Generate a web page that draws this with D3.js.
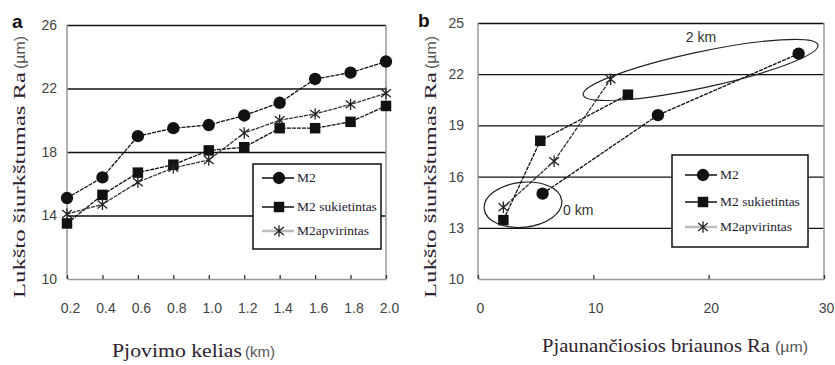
<!DOCTYPE html>
<html>
<head>
<meta charset="utf-8">
<script src="https://cdn.jsdelivr.net/npm/d3@7"></script>
<style>
  body { margin: 0; background: #fff; }
  .tick text { font-family: "Liberation Sans", Arial, sans-serif; font-size: 14px; fill: #444; }
</style>
</head>
<body>
<svg id="chart" width="835" height="365"></svg>
<script>
// ---- data, panel a (Ra vs cutting path) ----
var pathKm = [0.2, 0.4, 0.6, 0.8, 1.0, 1.2, 1.4, 1.6, 1.8, 2.0];
var m2Ra = [15.1, 16.4, 19.0, 19.5, 19.7, 20.3, 21.1, 22.6, 23.0, 23.7];
var sukietintasRa = [13.5, 15.3, 16.7, 17.2, 18.1, 18.3, 19.5, 19.5, 19.9, 20.9];
var apvirintasRa = [14.1, 14.7, 16.1, 17.0, 17.5, 19.2, 20.0, 20.4, 21.0, 21.7];
var yTicksA = [10, 14, 18, 22, 26];
var xTicksA = [0.2, 0.4, 0.6, 0.8, 1.0, 1.2, 1.4, 1.6, 1.8, 2.0];

// ---- data, panel b (shell Ra vs edge Ra) ----
var edgeM2 = [5.6, 15.6, 27.8];
var shellM2 = [15.0, 19.6, 23.2];
var edgeSukietintas = [2.2, 5.4, 13.0];
var shellSukietintas = [13.45, 18.1, 20.8];
var edgeApvirintas = [2.2, 6.6, 11.5];
var shellApvirintas = [14.2, 16.9, 21.7];
var yTicksB = [10, 13, 16, 19, 22, 25];
var xTicksB = [0, 10, 20, 30];

var seriesNames = ["M2", "M2 sukietintas", "M2apvirintas"];

var svg = d3.select("#chart");

// asterisk marker like the excel "star"
var starSymbol = {
  draw: function(ctx, size) {
    var r = Math.sqrt(size) / 2;
    ctx.moveTo(0, -r); ctx.lineTo(0, r);
    ctx.moveTo(-r * 0.85, -r * 0.7); ctx.lineTo(r * 0.85, r * 0.7);
    ctx.moveTo(-r * 0.85, r * 0.7); ctx.lineTo(r * 0.85, -r * 0.7);
  }
};

var markerStyles = [
  {type: d3.symbolCircle, size: 120, fill: "#111", stroke: "none"},
  {type: d3.symbolSquare, size: 110, fill: "#111", stroke: "none"},
  {type: starSymbol, size: 130, fill: "none", stroke: "#222"}
];

function drawMarker(g, i, x, y)
{
  var st = markerStyles[i];
  g.append("path")
   .attr("d", d3.symbol(st.type, st.size)())
   .attr("transform", "translate(" + x + "," + y + ")")
   .attr("fill", st.fill)
   .attr("stroke", st.stroke)
   .attr("stroke-width", 1.3);
}

function serifText(x, y, rot, str, len, size)
{
  svg.append("text")
     .attr("transform", "translate(" + x + "," + y + ") rotate(" + rot + ")")
     .attr("font-family", "'Liberation Serif', 'Times New Roman', serif")
     .attr("font-size", size)
     .attr("fill", "#2e2230")
     .attr("textLength", len)
     .attr("lengthAdjust", "spacingAndGlyphs")
     .text(str);
}

function unitText(x, y, rot, str, len)
{
  svg.append("text")
     .attr("transform", "translate(" + x + "," + y + ") rotate(" + rot + ")")
     .attr("font-family", "'Liberation Sans', Arial, sans-serif")
     .attr("font-size", 14)
     .attr("fill", "#555")
     .attr("textLength", len)
     .attr("lengthAdjust", "spacingAndGlyphs")
     .text(str);
}

function drawPanel(p)
{
  var g = svg.append("g");
  var x = p.x, y = p.y;
  var x0 = x.range()[0], x1 = x.range()[1];
  var yb = y.range()[0], yt = y.range()[1];

  // horizontal grid + y labels
  var yAxis = d3.axisLeft(y).tickValues(p.yTicks).tickSize(-(x1 - x0)).tickPadding(p.yPad);
  var ya = g.append("g").attr("transform", "translate(" + x0 + ",0)").call(yAxis);
  ya.select(".domain").remove();
  ya.selectAll(".tick line")
    .attr("stroke", function(d) { return d == p.yTicks[0] ? "none" : "#111"; })
    .attr("stroke-width", 1.3);

  // frame: left, right, bottom in grey
  g.append("line").attr("x1", x0).attr("x2", x0).attr("y1", yt).attr("y2", yb)
   .attr("stroke", "#999").attr("stroke-width", 1.5);
  g.append("line").attr("x1", x1).attr("x2", x1).attr("y1", yt).attr("y2", yb)
   .attr("stroke", "#999").attr("stroke-width", 1.5);

  var xAxis = d3.axisBottom(x).tickValues(p.xTicks).tickSizeInner(-4).tickSizeOuter(0)
                .tickPadding(24).tickFormat(p.xFormat);
  var xa = g.append("g").attr("transform", "translate(0," + yb + ")").call(xAxis);
  xa.select(".domain").attr("stroke", "#999").attr("stroke-width", 1.5);
  xa.selectAll(".tick line").attr("stroke", "#333").attr("stroke-width", 1.3);
  xa.selectAll(".tick text").attr("dx", p.xLabelShift);

  // legend box (white, hides the grid)
  var L = p.legend;
  var lg = g.append("g").attr("transform", "translate(" + L.x + "," + L.y + ")");
  lg.append("rect").attr("width", L.w).attr("height", L.h)
    .attr("fill", "#fff").attr("stroke", "#111").attr("stroke-width", 1.5);
  seriesNames.forEach(function(name, i)
  {
    var ry = L.rows[i];
    lg.append("line").attr("x1", L.lineX[0]).attr("x2", L.lineX[1]).attr("y1", ry).attr("y2", ry)
      .attr("stroke", i == 2 ? "#bbb" : "#111").attr("stroke-width", i == 2 ? 2.5 : 1.5);
    drawMarker(lg, i, L.markX, ry);
    lg.append("text").attr("x", L.textX).attr("y", ry).attr("dy", "0.33em")
      .attr("font-family", "'Liberation Serif', 'Times New Roman', serif")
      .attr("font-size", 13.5).attr("fill", "#1c1a30")
      .text(name);
  });

  // series lines + markers
  var line = d3.line().x(function(d) { return x(d[0]); }).y(function(d) { return y(d[1]); });
  p.series.forEach(function(s, i)
  {
    var pts = d3.zip(s[0], s[1]);
    g.append("path").datum(pts).attr("d", line)
     .attr("fill", "none").attr("stroke", i == 2 ? "#333" : "#111")
     .attr("stroke-width", 1.3).attr("stroke-dasharray", "4,1");
  });
  p.series.forEach(function(s, i)
  {
    d3.zip(s[0], s[1]).forEach(function(d) { drawMarker(g, i, x(d[0]), y(d[1])); });
  });
  return g;
}

var xA = d3.scaleLinear().domain([0.2, 2.0]).range([67, 386]);
var yA = d3.scaleLinear().domain([10, 26]).range([279, 25]);
var xB = d3.scaleLinear().domain([0, 30]).range([478, 824]);
var yB = d3.scaleLinear().domain([10, 25]).range([279, 23]);

drawPanel({
  x: xA, y: yA, yTicks: yTicksA, xTicks: xTicksA, yPad: 10, xLabelShift: 3,
  xFormat: d3.format(".1f"),
  series: [[pathKm, m2Ra], [pathKm, sukietintasRa], [pathKm, apvirintasRa]],
  legend: {x: 253, y: 164, w: 128, h: 85, rows: [14, 43, 67], lineX: [9, 41], markX: 26, textX: 44}
});

var gB = drawPanel({
  x: xB, y: yB, yTicks: yTicksB, xTicks: xTicksB, yPad: 14, xLabelShift: 2,
  xFormat: d3.format("d"),
  series: [[edgeM2, shellM2], [edgeSukietintas, shellSukietintas], [edgeApvirintas, shellApvirintas]],
  legend: {x: 672, y: 155, w: 136, h: 92, rows: [20, 47, 72], lineX: [13, 45], markX: 31, textX: 48}
});

// loops marking the 0 km and 2 km states
function loop(cx, cy, rx, ry, rot, label, lx, ly, anchor)
{
  gB.append("ellipse")
    .attr("transform", "translate(" + xB(cx) + "," + yB(cy) + ") rotate(" + rot + ")")
    .attr("rx", rx).attr("ry", ry)
    .attr("fill", "none").attr("stroke", "#222").attr("stroke-width", 1.2);
  gB.append("text").attr("x", lx).attr("y", ly).attr("text-anchor", anchor)
    .attr("font-family", "'Liberation Sans', Arial, sans-serif")
    .attr("font-size", 14).attr("fill", "#333")
    .text(label);
}
loop(3.9, 14.35, 39, 22.5, -6, "0 km", 563, 215, "start");
loop(19.3, 22.25, 120, 18, -12, "2 km", 701, 42, "middle");

// panel letters
svg.append("text").attr("x", 12).attr("y", 28).attr("font-family", "'Liberation Sans', Arial, sans-serif")
   .attr("font-size", 19).attr("font-weight", "bold").attr("fill", "#111").text("a");
svg.append("text").attr("x", 418).attr("y", 27).attr("font-family", "'Liberation Sans', Arial, sans-serif")
   .attr("font-size", 19).attr("font-weight", "bold").attr("fill", "#111").text("b");

// axis titles
serifText(25, 298, -90, "Lukšto šiurkštumas Ra", 226, 17);
unitText(25, 69, -90, "(µm)", 33);
serifText(436, 298, -90, "Lukšto šiurkštumas Ra", 226, 17);
unitText(436, 69, -90, "(µm)", 33);

serifText(112, 357, 0, "Pjovimo kelias", 130, 18);
unitText(245, 357, 0, "(km)", 30);
serifText(542, 352, 0, "Pjaunančiosios briaunos Ra", 228, 18);
unitText(775, 352, 0, "(µm)", 33);
</script>
</body>
</html>
